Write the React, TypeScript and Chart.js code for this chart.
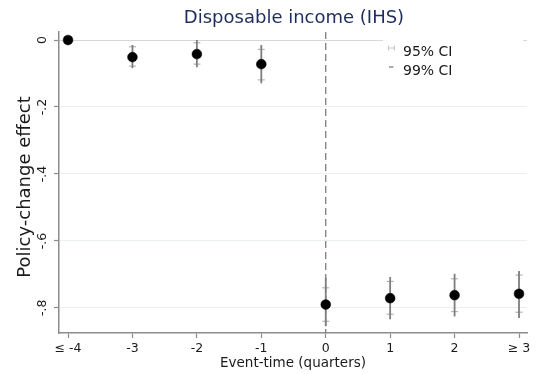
import React, { useEffect, useRef } from 'react';
import { Chart, registerables } from 'chart.js';

Chart.register(...registerables);

// ---- data ----
const CATEGORIES = [-4, -3, -2, -1, 0, 1, 2, 3];
const X_TICK_LABELS = ['≤ -4', '-3', '-2', '-1', '0', '1', '2', '≥ 3'];
const ESTIMATES = [0, -0.051, -0.042, -0.072, -0.79, -0.771, -0.762, -0.758];
const CI95_LOW: (number | null)[] = [null, -0.078, -0.072, -0.119, -0.84, -0.819, -0.811, -0.813];
const CI95_HIGH: (number | null)[] = [null, -0.02, -0.008, -0.028, -0.74, -0.721, -0.713, -0.702];
const CI99_LOW: (number | null)[] = [null, -0.084, -0.081, -0.129, -0.855, -0.834, -0.826, -0.83];
const CI99_HIGH: (number | null)[] = [null, -0.015, 0.0, -0.015, -0.71, -0.708, -0.698, -0.69];
const Y_TICKS = [0, -0.2, -0.4, -0.6, -0.8];
const Y_TICK_LABELS = ['0', '-.2', '-.4', '-.6', '-.8'];
const Y_MIN = -0.875;
const Y_MAX = 0.024;
const X_MIN = -4.14;
const X_MAX = 3.124;
const EVENT_X = 0;
const TITLE = 'Disposable income (IHS)';
const X_TITLE = 'Event-time (quarters)';
const Y_TITLE = 'Policy-change effect';
const LEGEND_LABELS = ['95% CI', '99% CI'];

const FONT = "'DejaVu Sans', sans-serif";

const textPlugin = {
  id: 'stataText',
  beforeDatasetsDraw(chart: any) {
    const ctx = chart.ctx;
    ctx.save();
    ctx.fillStyle = '#ffffff';
    ctx.fillRect(383, 34, 140, 46);
    ctx.restore();
  },
  afterDraw(chart: any) {
    const ctx = chart.ctx;
    const area = chart.chartArea;
    const yScale = chart.scales.y;
    ctx.save();
    // title
    ctx.fillStyle = '#1f2d5c';
    ctx.font = `18px ${FONT}`;
    ctx.textAlign = 'center';
    ctx.textBaseline = 'alphabetic';
    ctx.fillText(TITLE, (area.left + area.right) / 2 + 1, 23);
    // x title
    ctx.fillStyle = '#1a1a1a';
    ctx.font = `13.5px ${FONT}`;
    ctx.fillText(X_TITLE, (area.left + area.right) / 2, 367);
    // y title
    ctx.save();
    ctx.translate(30, 187);
    ctx.rotate(-Math.PI / 2);
    ctx.font = `18px ${FONT}`;
    ctx.fillText(Y_TITLE, 0, 0);
    ctx.restore();
    // y tick labels (rotated)
    ctx.font = `12.5px ${FONT}`;
    Y_TICKS.forEach((v, i) => {
      const py = yScale.getPixelForValue(v);
      ctx.save();
      ctx.translate(46, py);
      ctx.rotate(-Math.PI / 2);
      ctx.textAlign = 'center';
      ctx.fillText(Y_TICK_LABELS[i], 0, 0);
      ctx.restore();
    });
    // legend
    ctx.strokeStyle = '#c4c4c4';
    ctx.lineWidth = 1;
    ctx.beginPath();
    ctx.moveTo(388.5, 45.5);
    ctx.lineTo(388.5, 50.5);
    ctx.moveTo(394.5, 45.5);
    ctx.lineTo(394.5, 50.5);
    ctx.moveTo(388.5, 48);
    ctx.lineTo(394.5, 48);
    ctx.stroke();
    ctx.strokeStyle = '#7e7e7e';
    ctx.lineWidth = 1.3;
    ctx.beginPath();
    ctx.moveTo(389, 67);
    ctx.lineTo(393.5, 67);
    ctx.stroke();
    ctx.fillStyle = '#1a1a1a';
    ctx.font = `14px ${FONT}`;
    ctx.textAlign = 'left';
    ctx.fillText(LEGEND_LABELS[0], 403, 55.5);
    ctx.fillText(LEGEND_LABELS[1], 403, 74.5);
    ctx.restore();
  },
};

function buildSegments(lo: (number | null)[], hi: (number | null)[]) {
  const pts: { x: number; y: number | null }[] = [];
  CATEGORIES.forEach((c, i) => {
    if (lo[i] !== null && hi[i] !== null) {
      pts.push({ x: c, y: lo[i] as number });
      pts.push({ x: c, y: hi[i] as number });
      pts.push({ x: c, y: null });
    }
  });
  return pts;
}

function buildCaps(lo: (number | null)[], hi: (number | null)[]) {
  const pts: { x: number; y: number }[] = [];
  CATEGORIES.forEach((c, i) => {
    if (lo[i] !== null) pts.push({ x: c, y: lo[i] as number });
    if (hi[i] !== null) pts.push({ x: c, y: hi[i] as number });
  });
  return pts;
}

export default function App() {
  const ref = useRef<HTMLCanvasElement | null>(null);
  useEffect(() => {
    document.body.style.margin = '0';
    if (!ref.current) return;
    const chart = new Chart(ref.current, {
      type: 'scatter',
      data: {
        datasets: [
          {
            type: 'scatter',
            label: 'estimate',
            data: CATEGORIES.map((c, i) => ({ x: c, y: ESTIMATES[i] })),
            pointRadius: 4.9,
            pointBackgroundColor: '#000000',
            pointBorderColor: '#000000',
            pointBorderWidth: 0.5,
            order: 1,
          },
          {
            type: 'line',
            label: '99% CI',
            data: buildSegments(CI99_LOW, CI99_HIGH),
            borderColor: '#7e7e7e',
            borderWidth: 1.8,
            pointRadius: 0,
            spanGaps: false,
            order: 2,
          },
          {
            type: 'scatter',
            label: '95% CI',
            data: buildCaps(CI95_LOW, CI95_HIGH),
            pointStyle: 'line',
            pointRadius: 3.5,
            pointBorderColor: '#b4b4b4',
            pointBorderWidth: 1.2,
            order: 3,
          },
          {
            type: 'line',
            label: 'event',
            data: [
              { x: EVENT_X, y: Y_MAX },
              { x: EVENT_X, y: Y_MIN },
            ],
            borderColor: '#7e7e7e',
            borderWidth: 1.3,
            borderDash: [7, 4],
            pointRadius: 0,
            order: 4,
          },
        ] as any,
      },
      options: {
        responsive: false,
        animation: false,
        devicePixelRatio: 1,
        layout: { padding: { left: 0, right: 9, top: 32, bottom: 0 } },
        plugins: {
          legend: { display: false },
          tooltip: { enabled: false },
          title: { display: false },
        },
        scales: {
          x: {
            type: 'linear',
            min: X_MIN,
            max: X_MAX,
            afterBuildTicks: (s: any) => {
              s.ticks = CATEGORIES.map((v) => ({ value: v }));
            },
            afterFit: (s: any) => {
              s.height = 41;
              s.paddingLeft = 0;
              s.paddingRight = 0;
            },
            ticks: {
              autoSkip: false,
              maxRotation: 0,
              minRotation: 0,
              padding: 3,
              color: '#1a1a1a',
              font: { family: FONT, size: 12.5 },
              callback: (v: any) => X_TICK_LABELS[CATEGORIES.indexOf(Number(v))],
            },
            grid: {
              display: true,
              drawOnChartArea: false,
              drawTicks: true,
              tickLength: 5,
              tickColor: '#8c8c8c',
              tickWidth: 1.2,
            },
            border: { display: true, color: '#8c8c8c', width: 1.5 },
          },
          y: {
            type: 'linear',
            min: Y_MIN,
            max: Y_MAX,
            afterBuildTicks: (s: any) => {
              s.ticks = Y_TICKS.map((v) => ({ value: v }));
            },
            afterFit: (s: any) => {
              s.width = 59;
              s.paddingTop = 0;
              s.paddingBottom = 0;
            },
            ticks: { display: false },
            grid: {
              display: true,
              drawOnChartArea: true,
              drawTicks: true,
              tickLength: 5,
              tickColor: '#8c8c8c',
              tickWidth: 1.2,
              lineWidth: 1,
              color: (c: any) => (c.tick && c.tick.value === 0 ? '#d8d8d8' : '#eaf0ef'),
            },
            border: { display: true, color: '#8c8c8c', width: 1.5 },
          },
        },
      } as any,
      plugins: [textPlugin],
    });
    return () => chart.destroy();
  }, []);
  return (
    <div style={{ width: 536, height: 374 }}>
      <canvas ref={ref} width={536} height={374} style={{ display: 'block' }} />
    </div>
  );
}
